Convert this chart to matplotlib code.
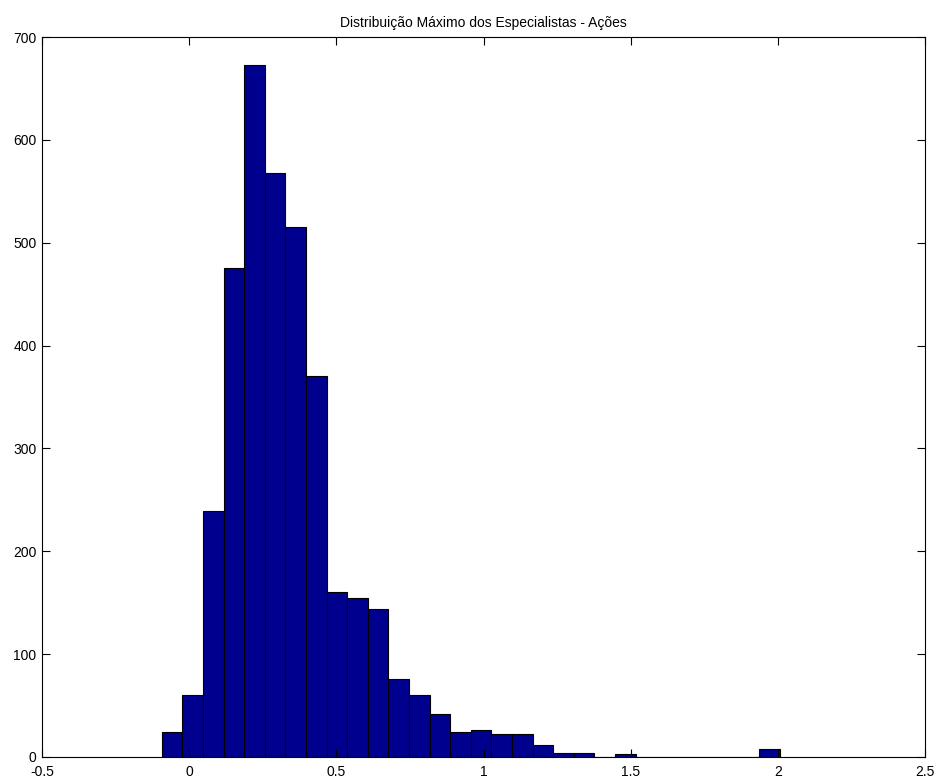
import numpy as np
import matplotlib.pyplot as plt

# contagens por classe (30 classes)
counts = [24, 60, 239, 475, 673, 568, 515, 370, 160, 155,
          144, 76, 60, 42, 24, 26, 22, 22, 12, 4,
          4, 0, 3, 0, 0, 0, 0, 0, 0, 8]
x_min = -0.093
x_max = 2.007
title = 'Distribuição Máximo dos Especialistas - Ações'
xticks = [-0.5, 0, 0.5, 1, 1.5, 2, 2.5]
xtick_labels = ['-0.5', '0', '0.5', '1', '1.5', '2', '2.5']
yticks = [0, 100, 200, 300, 400, 500, 600, 700]

edges = np.linspace(x_min, x_max, len(counts) + 1)
centers = (edges[:-1] + edges[1:]) / 2
width = edges[1] - edges[0]

plt.rcParams['font.family'] = ['Liberation Sans', 'DejaVu Sans']

fig = plt.figure(figsize=(9.41, 7.83), dpi=100)
ax = fig.add_axes([42 / 941, 26 / 783, 883 / 941, 720 / 783])

ax.bar(centers, counts, width=width, color='#00008f', edgecolor='black', linewidth=0.8)

ax.set_xlim(-0.5, 2.5)
ax.set_ylim(0, 700)
ax.set_xticks(xticks)
ax.set_xticklabels(xtick_labels)
ax.set_yticks(yticks)
ax.tick_params(direction='in', top=True, right=True, length=6, labelsize=10)
ax.tick_params(axis='x', pad=6)
ax.tick_params(axis='y', pad=4)
for s in ax.spines.values():
    s.set_linewidth(0.8)
ax.set_title(title, fontsize=10, pad=7)

fig.savefig('out.png', dpi=100)
